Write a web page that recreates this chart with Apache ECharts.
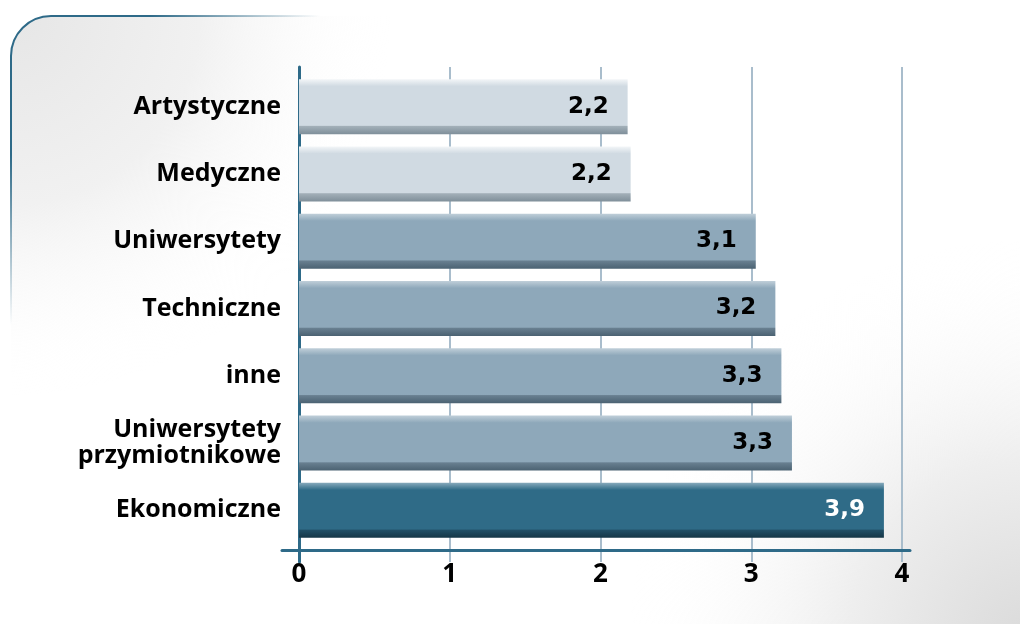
<!DOCTYPE html>
<html>
<head>
<meta charset="utf-8">
<script src="https://cdn.jsdelivr.net/npm/echarts@6/dist/echarts.min.js"></script>
<style>
  html, body { margin: 0; padding: 0; background: #fff; }
  #chart { width: 1020px; height: 624px; }
</style>
</head>
<body>
<div id="chart"></div>
<script>
// categories top to bottom
const categories = ['Artystyczne', 'Medyczne', 'Uniwersytety', 'Techniczne', 'inne', 'Uniwersytety\nprzymiotnikowe', 'Ekonomiczne'];
// bar lengths as drawn
const values = [2.18, 2.2, 3.03, 3.16, 3.2, 3.27, 3.88];
// printed values
const valueLabels = ['2,2', '2,2', '3,1', '3,2', '3,3', '3,3', '3,9'];
const xTicks = [0, 1, 2, 3, 4];

const tiers = ['light', 'light', 'mid', 'mid', 'mid', 'mid', 'dark'];
const palette = {
  light: { top: '#f3f6f8', body: '#d0dae2', low: '#a2afb8', edge: '#7f8f9a', text: '#000' },
  mid:   { top: '#c0cfd9', body: '#8ea8ba', low: '#687f90', edge: '#4b6272', text: '#000' },
  dark:  { top: '#86a9bb', body: '#2f6b87', low: '#214f66', edge: '#153646', text: '#fff' }
};
const teal = '#2e6a88';
const gridColor = '#a9bdcc';

function barFill(p) {
  return new echarts.graphic.LinearGradient(0, 0, 0, 1, [
    { offset: 0, color: p.top },
    { offset: 0.13, color: p.body },
    { offset: 0.84, color: p.body },
    { offset: 0.86, color: p.low },
    { offset: 1, color: p.edge }
  ]);
}

const chart = echarts.init(document.getElementById('chart'));

const option = {
  animation: false,
  graphic: [
    {
      type: 'rect', z: -10, silent: true,
      shape: { x: 11, y: 16, width: 1100, height: 700, r: [40, 0, 0, 0] },
      style: {
        fill: new echarts.graphic.RadialGradient(10, 15, 380, [
          { offset: 0, color: '#e6e6e6' },
          { offset: 0.5, color: '#f1f1f1' },
          { offset: 1, color: 'rgba(255,255,255,0)' }
        ], true),
        stroke: new echarts.graphic.RadialGradient(10, 15, 310, [
          { offset: 0, color: teal },
          { offset: 0.45, color: teal },
          { offset: 1, color: 'rgba(46,106,136,0)' }
        ], true),
        lineWidth: 2
      }
    },
    {
      type: 'rect', z: -9, silent: true,
      shape: { x: 12, y: 17, width: 1100, height: 700 },
      style: {
        fill: new echarts.graphic.RadialGradient(1030, 640, 400, [
          { offset: 0, color: '#dadada' },
          { offset: 0.45, color: '#eeeeee' },
          { offset: 1, color: 'rgba(255,255,255,0)' }
        ], true)
      }
    }
  ],
  grid: [
    { left: 299, right: 118, top: 67, bottom: 62 },
    { left: 282, right: 110, top: 67, bottom: 74 },
    { left: 299, right: 118, top: 73, bottom: 80 }
  ],
  xAxis: [
    {
      gridIndex: 0, type: 'value', min: 0, max: 4, interval: 1,
      axisLine: { show: false }, axisTick: { show: false }, axisLabel: { show: false },
      splitLine: { show: true, lineStyle: { color: gridColor, width: 2 } }
    },
    {
      gridIndex: 1, type: 'value', min: 0, max: 1,
      axisLine: { show: true, lineStyle: { color: teal, width: 3 } },
      axisTick: { show: false }, axisLabel: { show: false }, splitLine: { show: false }
    },
    {
      gridIndex: 2, type: 'value', min: xTicks[0], max: xTicks[xTicks.length - 1], interval: 1,
      axisLine: { show: false }, axisTick: { show: false }, splitLine: { show: false },
      axisLabel: {
        margin: 18, color: '#000', fontSize: 26, fontWeight: 'bold', fontFamily: 'Open Sans',
        formatter: v => String(v)
      }
    }
  ],
  yAxis: [
    {
      gridIndex: 0, type: 'value', min: 0, max: 1, position: 'left',
      axisLine: { show: true, lineStyle: { color: teal, width: 3 } },
      axisTick: { show: false }, axisLabel: { show: false }, splitLine: { show: false }
    },
    {
      gridIndex: 1, type: 'value', min: 0, max: 1, show: false
    },
    {
      gridIndex: 2, type: 'category', data: categories, inverse: true,
      axisLine: { show: false }, axisTick: { show: false }, splitLine: { show: false },
      axisLabel: {
        margin: 18, color: '#000', fontSize: 25, fontWeight: 'bold', fontFamily: 'Open Sans',
        lineHeight: 26, align: 'right'
      }
    }
  ],
  series: [
    {
      type: 'bar', xAxisIndex: 2, yAxisIndex: 2, barWidth: 55,
      data: values.map((v, i) => {
        const p = palette[tiers[i]];
        return {
          value: v,
          itemStyle: { color: barFill(p) },
          label: {
            show: true, position: 'insideRight', distance: 19,
            formatter: valueLabels[i], color: p.text,
            fontSize: 23, fontWeight: 'bold', fontFamily: 'DejaVu Sans'
          }
        };
      })
    }
  ]
};

chart.setOption(option);
</script>
</body>
</html>
